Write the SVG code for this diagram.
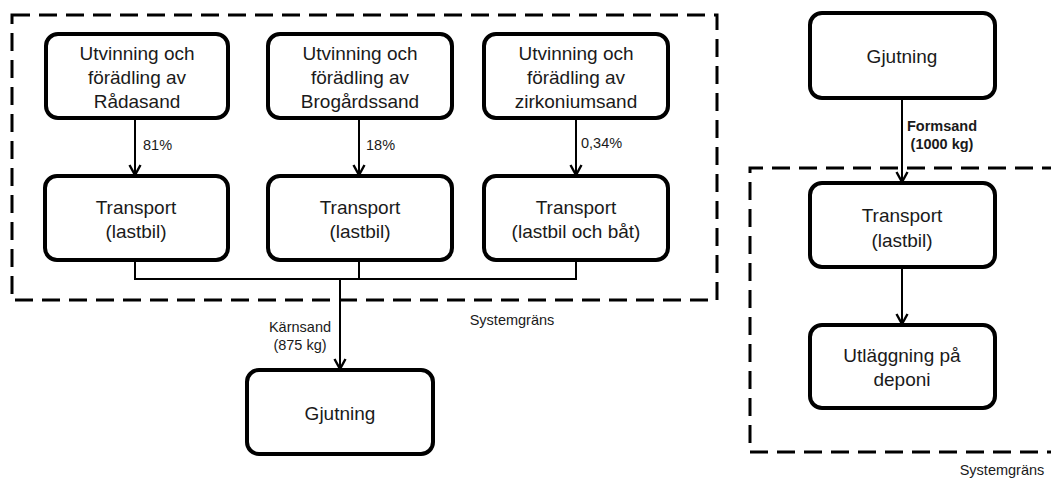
<svg xmlns="http://www.w3.org/2000/svg" width="1051" height="479" viewBox="0 0 1051 479">
  <style>
    .box { fill: #fff; stroke: #000; stroke-width: 4; }
    .bound { fill: none; stroke: #000; stroke-width: 3; stroke-dasharray: 18 9; }
    .line { fill: none; stroke: #000; stroke-width: 2; }
    .t { font-family: "Liberation Sans", Arial, sans-serif; font-size: 19px; fill: #1a1a1a; text-anchor: middle; }
    .lbl { font-family: "Liberation Sans", Arial, sans-serif; font-size: 14.5px; fill: #1a1a1a; }
    .b { font-weight: bold; }
  </style>
  <defs>
    <!-- open V arrowhead, drawn along +x so orient="auto" follows the line -->
    <marker id="arrow" viewBox="0 0 12 14" refX="11" refY="7" markerWidth="12" markerHeight="14" markerUnits="userSpaceOnUse" orient="auto">
      <path d="M1 1.5 L11 7 L1 12.5" fill="none" stroke="#000" stroke-width="2.4"/>
    </marker>
  </defs>

  <!-- system boundaries -->
  <g id="boundaries">
    <rect class="bound" x="12" y="15" width="705" height="285"/>
    <path class="bound" d="M1060 168 H750 V452 H1060"/>
    <text class="lbl" x="512" y="325" text-anchor="middle" font-size="14">Systemgräns</text>
    <text class="lbl" x="1002" y="475" text-anchor="middle" font-size="14">Systemgräns</text>
  </g>

  <!-- connectors -->
  <g id="connectors">
    <line class="line" x1="135" y1="118" x2="135" y2="175" marker-end="url(#arrow)"/>
    <line class="line" x1="359" y1="118" x2="359" y2="175" marker-end="url(#arrow)"/>
    <line class="line" x1="576" y1="118" x2="576" y2="175" marker-end="url(#arrow)"/>
    <path class="line" d="M135 260 V279 H576 V260 M359 260 V279"/>
    <line class="line" x1="340" y1="279" x2="340" y2="369" marker-end="url(#arrow)"/>
    <line class="line" x1="902" y1="98" x2="902" y2="182" marker-end="url(#arrow)"/>
    <line class="line" x1="902" y1="267" x2="902" y2="324" marker-end="url(#arrow)"/>
    <text class="lbl" x="143" y="150">81%</text>
    <text class="lbl" x="366" y="150">18%</text>
    <text class="lbl" x="581" y="148">0,34%</text>
    <text class="lbl" x="300" y="332" text-anchor="middle">Kärnsand</text>
    <text class="lbl" x="300" y="350" text-anchor="middle">(875 kg)</text>
    <text class="lbl b" x="942" y="131" text-anchor="middle">Formsand</text>
    <text class="lbl b" x="942" y="149" text-anchor="middle">(1000 kg)</text>
  </g>

  <g id="utv-radasand">
    <rect class="box" x="46" y="34" width="182" height="84" rx="12"/>
    <text class="t" x="137" y="60">Utvinning och</text>
    <text class="t" x="137" y="84">förädling av</text>
    <text class="t" x="137" y="108">Rådasand</text>
  </g>
  <g id="utv-brogardssand">
    <rect class="box" x="268" y="34" width="184" height="84" rx="12"/>
    <text class="t" x="360" y="60">Utvinning och</text>
    <text class="t" x="360" y="84">förädling av</text>
    <text class="t" x="360" y="108">Brogårdssand</text>
  </g>
  <g id="utv-zirkoniumsand">
    <rect class="box" x="484" y="34" width="184" height="84" rx="12"/>
    <text class="t" x="576" y="60">Utvinning och</text>
    <text class="t" x="576" y="84">förädling av</text>
    <text class="t" x="576" y="108">zirkoniumsand</text>
  </g>

  <g id="transport-1">
    <rect class="box" x="45" y="176" width="183" height="84" rx="12"/>
    <text class="t" x="136" y="214">Transport</text>
    <text class="t" x="136" y="238">(lastbil)</text>
  </g>
  <g id="transport-2">
    <rect class="box" x="268" y="176" width="184" height="84" rx="12"/>
    <text class="t" x="360" y="214">Transport</text>
    <text class="t" x="360" y="238">(lastbil)</text>
  </g>
  <g id="transport-3">
    <rect class="box" x="484" y="176" width="184" height="84" rx="12"/>
    <text class="t" x="576" y="214">Transport</text>
    <text class="t" x="576" y="238">(lastbil och båt)</text>
  </g>

  <g id="gjutning-karnsand">
    <rect class="box" x="247" y="370" width="186" height="84" rx="12"/>
    <text class="t" x="340" y="420">Gjutning</text>
  </g>

  <g id="gjutning-formsand">
    <rect class="box" x="810" y="13" width="185" height="85" rx="12"/>
    <text class="t" x="902" y="63">Gjutning</text>
  </g>
  <g id="transport-formsand">
    <rect class="box" x="810" y="183" width="185" height="84" rx="12"/>
    <text class="t" x="902" y="222">Transport</text>
    <text class="t" x="902" y="247">(lastbil)</text>
  </g>
  <g id="deponi">
    <rect class="box" x="810" y="325" width="185" height="83" rx="12"/>
    <text class="t" x="902" y="362">Utläggning på</text>
    <text class="t" x="902" y="386">deponi</text>
  </g>
</svg>
